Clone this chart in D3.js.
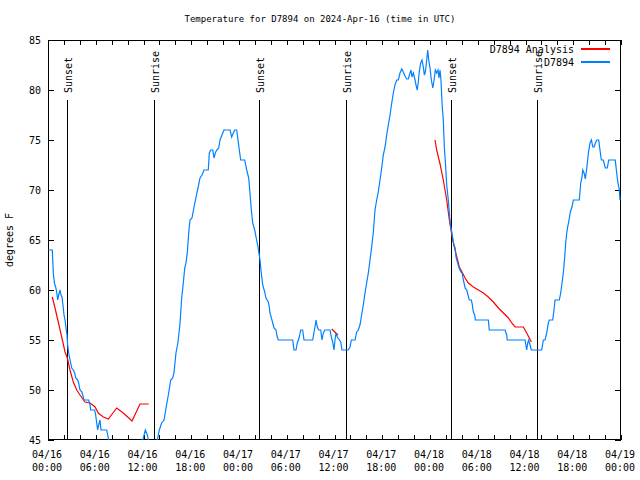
<!DOCTYPE html>
<html><head><meta charset="utf-8">
<script src="https://cdn.jsdelivr.net/npm/d3@7"></script>
<style>
body{margin:0;background:#fff}
svg text{font-family:"DejaVu Sans Mono","Liberation Mono",monospace;font-size:10px;fill:#000}
</style>
</head><body>
<svg id="chart" width="640" height="480"></svg>
<script>
// ---------- data ----------
const titleText = "Temperature for D7894 on 2024-Apr-16 (time in UTC)";
const yLabel = "degrees F";
const startTime = "2024-04-16T00:00:00Z";
const endTime = "2024-04-19T00:00:00Z";
const yTickValues = [45, 50, 55, 60, 65, 70, 75, 80, 85];
const seriesNames = ["D7894 Analysis", "D7894"];

// observations: hours since 2024-04-16 00:00 UTC, temperature (F)
const obsHours = [0.04,0.54,0.67,0.80,0.96,1.09,1.22,1.34,1.51,1.63,1.76,1.88,2.01,2.14,2.26,2.39,2.47,2.60,2.72,2.85,2.98,3.18,3.35,3.48,3.73,3.85,4.02,4.27,4.40,4.52,5.11,5.28,5.36,5.86,5.99,6.12,6.24,6.37,6.53,6.66,7.37,7.50,7.62,8.0,10.0,11.3,11.85,11.98,12.23,12.48,12.61,12.8,13.5,13.73,13.99,14.28,14.58,14.83,15.12,15.42,15.67,15.83,16.08,16.34,16.59,16.80,17.00,17.18,17.34,17.50,17.68,17.84,18.09,18.35,18.60,18.85,19.10,19.35,19.60,20.14,20.27,20.44,20.70,20.86,21.02,21.20,21.45,21.61,21.86,22.12,22.87,23.08,23.28,23.46,23.71,23.88,24.04,24.21,24.72,24.97,25.22,25.38,25.55,25.72,25.97,26.14,26.39,26.64,26.80,26.98,27.23,27.39,27.68,27.81,27.89,28.14,28.40,28.65,28.81,28.94,30.75,30.91,31.16,31.33,31.58,31.75,32.00,32.17,33.26,33.43,33.59,33.68,33.84,34.02,34.27,34.43,34.60,34.77,35.43,35.60,35.77,35.94,36.06,36.19,36.35,36.53,36.78,36.94,37.73,37.95,38.11,38.58,38.79,38.99,39.20,39.41,39.62,39.83,40.04,40.25,40.46,40.67,40.88,41.09,41.30,41.50,41.72,41.93,42.13,42.35,42.56,42.76,42.98,43.19,43.39,43.60,43.82,44.02,44.23,44.45,44.65,44.86,45.07,45.28,45.49,45.62,45.74,45.91,46.12,46.24,46.40,46.53,46.65,46.83,47.00,47.16,47.29,47.41,47.59,47.71,47.84,48.00,48.17,48.35,48.51,48.67,48.84,49.01,49.13,49.26,49.38,49.51,49.67,49.80,49.97,50.10,50.30,50.43,50.60,50.77,50.94,51.15,51.27,51.44,51.61,51.87,52.03,52.19,52.41,52.62,52.78,52.94,53.19,53.28,53.45,53.62,53.69,55.33,55.45,57.43,57.64,57.71,59.94,60.15,60.28,60.40,60.57,60.73,62.04,62.24,62.45,62.67,62.87,62.99,63.42,63.58,63.71,64.25,64.42,64.59,64.75,64.93,65.05,65.18,65.30,65.47,65.63,65.84,66.01,66.76,66.94,67.10,67.19,67.36,67.52,67.70,67.90,68.11,68.28,68.46,68.62,68.78,68.95,69.20,69.36,69.53,69.78,70.03,70.28,70.45,71.28,71.46,71.62,71.79,71.87];
const obsTemps = [64,64,61.7,60.7,60.3,59.8,59,59.5,60,59.5,59.3,58.5,57.5,57,56.2,55.5,54.5,53.7,53.2,52.7,52.2,52,51.7,51.2,51,50.7,50,49.8,49.4,49,49,48.5,48,48,47.5,46.7,46,46.5,47,46,46,45.5,45,44.3,44,44.5,45,45.2,46,45.5,45,44.2,44,45,46,46.7,47,48.2,49.5,51,51.2,51.7,53.7,54.8,56.7,59.2,60.7,62.2,62.7,63.7,65.7,67,67.2,68.3,69.3,70.2,71.2,71.5,72,72,73.7,74,74,73.2,73.7,74,74.2,75,75.5,76,76,75.3,75.7,76,76,75,74,73,73,72,71.2,69.7,68,66.7,66,65.3,64.3,63,61.7,60.5,59.8,59.2,58.8,58.3,57.7,57,56.2,56,55.3,55,55,54,54,54.7,55.3,56,56,55,55,55.8,56.5,57,56.3,56,56,55,55.7,56,56,55.3,54.8,54,55,55.7,55.3,55.1,54.8,54,54,54.3,55,55,55.8,56,56.5,57.5,58.5,59.7,60.7,61.7,63,64.3,65.8,68,69,69.8,71,72.2,73.5,74.3,75.5,76.5,77.5,78.7,79.7,80.5,81,81,81.7,82.1,81.8,81.4,81.1,81.1,81.7,82,81.3,81.7,81,80.5,80,80.8,81.8,82.7,83,82.3,81.5,81.8,83,84,83,82.2,81,80.2,81,82,81.7,82,81.2,82,81,78.7,77,74.3,72.3,70.5,69,67.7,66.3,65.7,64.7,64.2,63.3,62.8,62.3,61.8,61.7,61,60.2,60,59.5,59,59,58.7,57.8,57.5,57,57,56,56,55.5,55,55,54,54.7,55,54.5,54,54,55,55,55.7,56.7,57,57,58,59,59,59.7,60.7,61.7,63.3,64.7,65.7,66.3,67,67.8,68.3,69,69,70.7,71.3,72,71.7,71.1,72.2,73.7,74.7,75,74.3,74.3,74.7,75,75,74,73,73,72.2,72.2,73,73,71.7,70.7,70,69];

// analysis: null marks a gap between segments
const anaHours = [0.54,0.88,1.29,1.72,2.14,2.43,2.76,3.18,3.61,4.02,4.65,5.28,5.91,6.32,6.95,7.58,8.63,9.46,10.56,11.56,12.65,null,35.65,36.44,null,48.63,48.84,49.26,49.67,50.10,50.43,50.74,51.03,51.37,51.69,52.03,52.41,52.82,53.45,54.08,54.71,55.33,55.96,56.59,57.22,57.85,58.27,58.69,59.73,60.15,60.48,60.73];
const anaTemps = [59.3,58.2,56.8,55.3,53.8,53.2,52,50.8,50,49.5,48.8,48.7,48.3,47.7,47.3,47.1,48.2,47.7,46.9,48.6,48.6,null,56.1,55.5,null,75,74,72.6,71,69,67,65.5,64.4,63.3,62.3,61.8,61.2,60.7,60.3,60,59.7,59.3,58.8,58.2,57.7,57.2,56.7,56.3,56.3,55.7,55.2,54.8];

const sunsetHours = [2.35, 26.55, 50.64];
const sunriseHours = [13.32, 37.45, 61.48];

// ---------- drawing ----------
const W = 640, H = 480;
const L = 48, R = 621, T = 40, B = 440;
const t0 = new Date(startTime), t1 = new Date(endTime);
const toDate = h => new Date(t0.getTime() + h * 3600e3);

const svg = d3.select("#chart");
svg.append("rect").attr("width", W).attr("height", H).attr("fill", "#fff");

const x = d3.scaleUtc().domain([t0, t1]).range([L, R]);
const y = d3.scaleLinear().domain([45, 85]).range([B, T]);

svg.append("defs").append("clipPath").attr("id", "clip")
  .append("rect").attr("x", L).attr("y", T).attr("width", R - L).attr("height", B - T);

// title
svg.append("text").attr("x", 320).attr("y", 22).attr("text-anchor", "middle")
  .style("font-size", "9px").text(titleText);

// y label
svg.append("text").attr("transform", "translate(13,240) rotate(-90)")
  .attr("text-anchor", "middle").text(yLabel);

const axes = svg.append("g").attr("shape-rendering", "crispEdges").attr("stroke", "#000");

// y ticks (both sides) and labels
yTickValues.forEach(v => {
  const yy = y(v);
  axes.append("line").attr("x1", L).attr("x2", L + 6).attr("y1", yy).attr("y2", yy);
  axes.append("line").attr("x1", R).attr("x2", R - 6).attr("y1", yy).attr("y2", yy);
  svg.append("text").attr("x", 41).attr("y", yy + 4).attr("text-anchor", "end").text(v);
});

// x ticks: every 2 hours, labels every 6 hours
const minorTicks = d3.utcHour.every(2).range(t0, new Date(t1.getTime() + 1));
minorTicks.forEach(d => {
  const xx = Math.round(x(d));
  axes.append("line").attr("x1", xx).attr("x2", xx).attr("y1", B).attr("y2", B - 5);
  axes.append("line").attr("x1", xx).attr("x2", xx).attr("y1", T).attr("y2", T + 5);
});
const majorTicks = d3.utcHour.every(6).range(t0, new Date(t1.getTime() + 1));
const fDay = d3.utcFormat("%m/%d"), fTime = d3.utcFormat("%H:%M");
majorTicks.forEach(d => {
  const xx = x(d) - 1;
  const t = svg.append("text").attr("text-anchor", "middle");
  t.append("tspan").attr("x", xx).attr("y", 457.5).text(fDay(d));
  t.append("tspan").attr("x", xx).attr("y", 470.5).text(fTime(d));
});

// sunrise / sunset lines
const sunEvents = sunsetHours.map(h => ({h, label: "Sunset"}))
  .concat(sunriseHours.map(h => ({h, label: "Sunrise"})));
sunEvents.forEach(e => {
  const xx = Math.round(x(toDate(e.h))) + 0.5;
  axes.append("line").attr("x1", xx).attr("x2", xx).attr("y1", 100).attr("y2", B);
  svg.append("text").attr("transform", `translate(${xx + 4},93) rotate(-90)`)
    .attr("text-anchor", "start").text(e.label);
});

// data lines
const line = d3.line()
  .defined((d) => d[0] !== null)
  .x(d => x(toDate(d[0]))).y(d => y(d[1]));

const obs = obsHours.map((h, i) => [h, obsTemps[i]]);
const ana = anaHours.map((h, i) => [h, anaTemps[i]]);

const plot = svg.append("g").attr("clip-path", "url(#clip)");
plot.append("path").datum(ana).attr("d", line)
  .attr("fill", "none").attr("stroke", "#ff0000").attr("stroke-width", 1.2);
plot.append("path").datum(obs).attr("d", line)
  .attr("fill", "none").attr("stroke", "#0080ff").attr("stroke-width", 1.2);

// frame
axes.append("rect").attr("x", L + 0.5).attr("y", T + 0.5).attr("width", R - L - 1).attr("height", B - T - 1)
  .attr("fill", "none");

// legend
const legend = [{name: seriesNames[0], color: "#ff0000", y: 49}, {name: seriesNames[1], color: "#0080ff", y: 62}];
legend.forEach(l => {
  svg.append("text").attr("x", 574).attr("y", l.y + 4).attr("text-anchor", "end").text(l.name);
  svg.append("line").attr("x1", 581).attr("x2", 610).attr("y1", l.y).attr("y2", l.y)
    .attr("stroke", l.color).attr("stroke-width", 1.2).attr("shape-rendering", "crispEdges");
});
</script>
</body></html>
